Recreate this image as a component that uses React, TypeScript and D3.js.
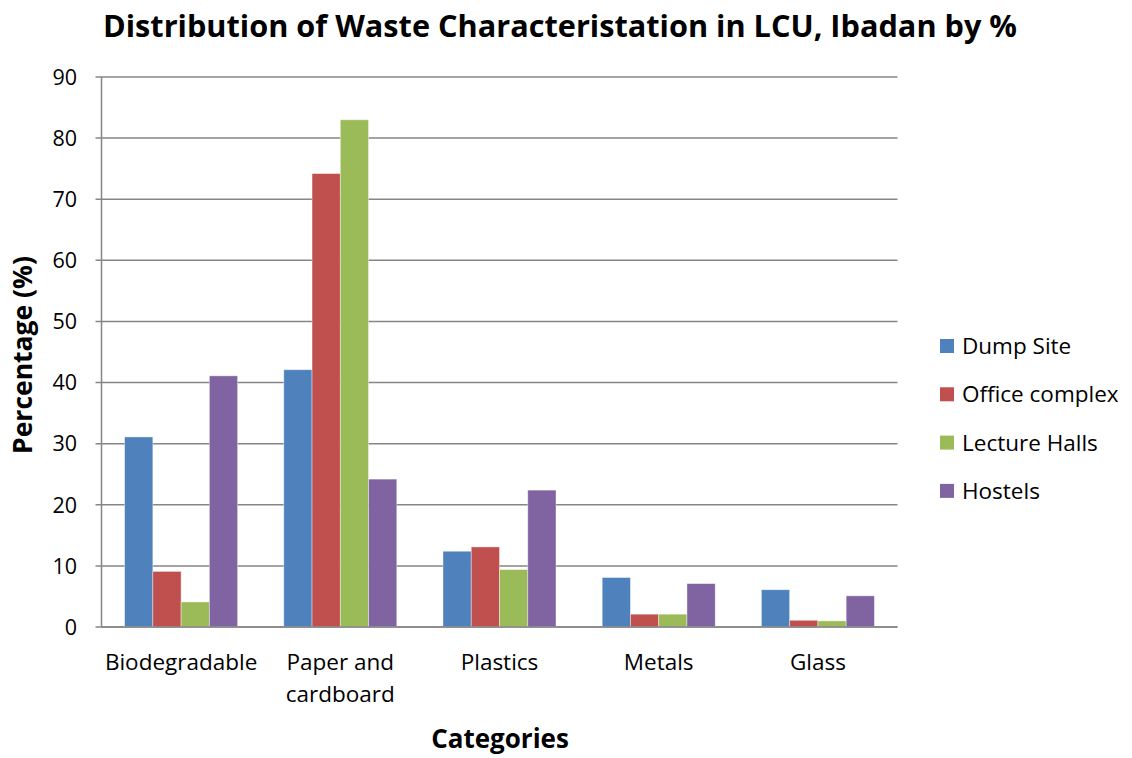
import React from "react";
import * as d3 from "d3";

const categories = ["Biodegradable", "Paper and cardboard", "Plastics", "Metals", "Glass"];
const categoryLines = [["Biodegradable"], ["Paper and", "cardboard"], ["Plastics"], ["Metals"], ["Glass"]];
const seriesNames = ["Dump Site", "Office complex", "Lecture Halls", "Hostels"];
const dumpSite = [31.1, 42.1, 12.4, 8.1, 6.1];
const officeComplex = [9.1, 74.2, 13.1, 2.1, 1.1];
const lectureHalls = [4.1, 83.0, 9.4, 2.1, 1.0];
const hostels = [41.1, 24.2, 22.4, 7.1, 5.1];
const yTicks = [0, 10, 20, 30, 40, 50, 60, 70, 80, 90];
const colors = ["#4F81BD", "#C0504D", "#9BBB59", "#8064A2"];

const W = 1132;
const H = 758;
const left = 101.5;
const right = 897.5;
const top = 77;
const bottom = 627;
const font = "'Open Sans', 'Noto Sans', sans-serif";

export default function App() {
  const series = [dumpSite, officeComplex, lectureHalls, hostels];
  const x0 = d3.scaleBand<string>().domain(categories).range([left, right]).padding(0);
  const cw = x0.bandwidth();
  const gap = cw * 0.29;
  const x1 = d3.scaleBand<string>().domain(seriesNames).range([gap / 2, cw - gap / 2]).padding(0);
  const y = d3.scaleLinear().domain([0, 90]).range([bottom, top]);

  return (
    <svg width={W} height={H} style={{ position: "absolute", left: 0, top: 0, background: "#fff" }} fontFamily={font}>
      <rect x={0} y={0} width={W} height={H} fill="#fff" />
      <text x={560} y={37} textAnchor="middle" fontSize={30} fontWeight="bold" textLength={914} lengthAdjust="spacingAndGlyphs" fill="#000">
        Distribution of Waste Characteristation in LCU, Ibadan by %
      </text>
      {yTicks.map((t) => (
        <g key={t}>
          <line x1={left - 6} x2={right} y1={y(t)} y2={y(t)} stroke="#868686" strokeWidth={1.5} />
          <text x={77} y={y(t)} dy="0.36em" textAnchor="end" fontSize={21.5} fill="#000">{t}</text>
        </g>
      ))}
      <line x1={left} x2={left} y1={top} y2={bottom} stroke="#868686" strokeWidth={1.5} />
      {categories.map((c, ci) => (
        <g key={c} transform={`translate(${x0(c)},0)`}>
          {seriesNames.map((s, si) => (
            <rect
              key={s}
              x={x1(s)}
              y={y(series[si][ci])}
              width={x1.bandwidth()}
              height={bottom - y(series[si][ci])}
              fill={colors[si]}
              stroke="#ffffff"
              strokeOpacity={0.5}
              strokeWidth={0.8}
            />
          ))}
        </g>
      ))}
      <line x1={left} x2={right} y1={bottom} y2={bottom} stroke="#868686" strokeWidth={1.5} />
      {categories.map((c, ci) => (
        <text key={c} x={(x0(c) as number) + cw / 2} y={670} textAnchor="middle" fontSize={22.5} fill="#000">
          {categoryLines[ci].map((ln, li) => (
            <tspan key={li} x={(x0(c) as number) + cw / 2} dy={li === 0 ? 0 : 32}>{ln}</tspan>
          ))}
        </text>
      ))}
      <text x={500} y={748} textAnchor="middle" fontSize={26} fontWeight="bold" fill="#000">Categories</text>
      <text transform="translate(32,355) rotate(-90)" textAnchor="middle" fontSize={26.5} fontWeight="bold" fill="#000">Percentage (%)</text>
      {seriesNames.map((s, si) => (
        <g key={s} transform={`translate(940,${346 + si * 48.3})`}>
          <rect x={0} y={-7} width={14} height={14} fill={colors[si]} />
          <text x={22} y={0} dy="0.36em" fontSize={22.5} fill="#000">{s}</text>
        </g>
      ))}
    </svg>
  );
}
